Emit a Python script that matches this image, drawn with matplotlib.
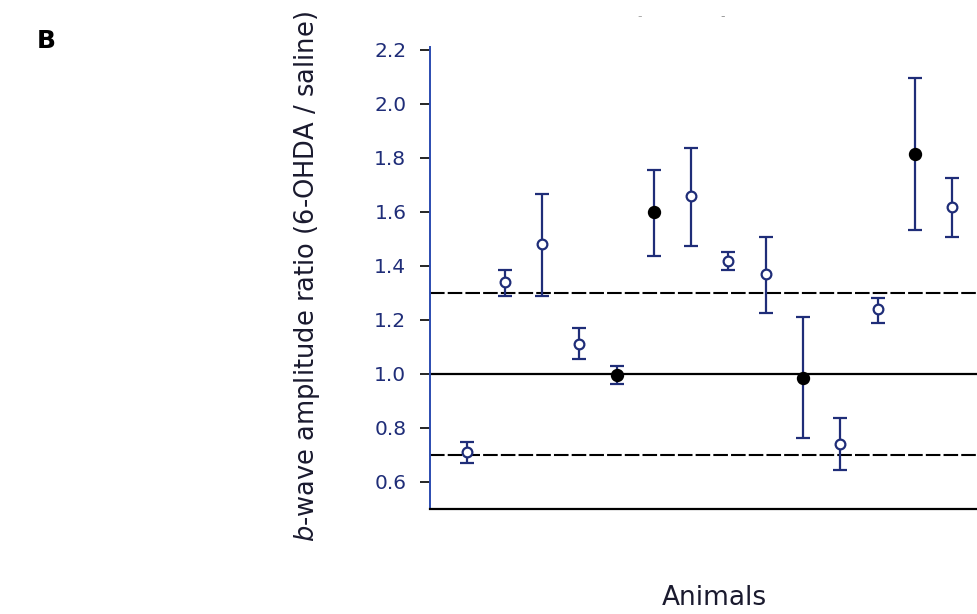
import matplotlib.pyplot as plt

# one entry per animal
animal = [1, 2, 3, 4, 5, 6, 7, 8, 9, 10, 11, 12, 13, 14]
ratio = [0.71, 1.34, 1.48, 1.11, 0.995, 1.60, 1.66, 1.42, 1.37, 0.985, 0.74, 1.24, 1.815, 1.62]
err_lo = [0.67, 1.29, 1.29, 1.055, 0.963, 1.437, 1.474, 1.385, 1.226, 0.763, 0.644, 1.189, 1.533, 1.507]
err_hi = [0.748, 1.385, 1.667, 1.17, 1.03, 1.756, 1.837, 1.452, 1.507, 1.211, 0.837, 1.281, 2.096, 1.726]
filled = [False, False, False, False, True, True, False, False, False, True, False, False, True, False]

yticks = [0.6, 0.8, 1.0, 1.2, 1.4, 1.6, 1.8, 2.0, 2.2]

navy = '#1f2d78'

fig = plt.figure(figsize=(9.77, 6.14), dpi=100)
ax = fig.add_axes([430 / 977, 105 / 614, 1 - 430 / 977, 462 / 614])

# reference lines
ax.axhline(1.0, color='black', lw=1.6, zorder=1)
ax.axhline(1.3, color='black', lw=1.5, ls=(0, (7, 1.5)), zorder=1)
ax.axhline(0.7, color='black', lw=1.5, ls=(0, (7, 1.5)), zorder=1)

for i in range(len(animal)):
    lo = ratio[i] - err_lo[i]
    hi = err_hi[i] - ratio[i]
    if filled[i]:
        face = 'black'
        edge = 'black'
        ms = 8
    else:
        face = 'white'
        edge = navy
        ms = 7
    eb = ax.errorbar(animal[i], ratio[i], yerr=[[lo], [hi]], fmt='o',
                     color=navy, ecolor=navy, elinewidth=1.6, capsize=5,
                     capthick=1.6, mfc=face, mec=edge, mew=1.6, ms=ms, zorder=3)
    for cap in eb[1]:
        cap.set_color('#111122')

ax.set_xlim(0, 547 / 37.3)
ax.set_ylim(0.5, 2.211)
ax.set_yticks(yticks)
ax.set_yticklabels(['%.1f' % t for t in yticks], fontsize=14.5)
ax.set_xticks([])
ax.tick_params(axis='y', direction='out', length=7, width=1.2, colors='black',
               labelcolor=navy, pad=10)
ax.spines['top'].set_visible(False)
ax.spines['right'].set_visible(False)
ax.spines['left'].set_color('#2b4bb0')
ax.spines['left'].set_linewidth(1.4)
ax.spines['bottom'].set_linewidth(1.6)

fig.text(307 / 977, 1 - 277 / 614, '$b$-wave amplitude ratio (6-OHDA / saline)',
         rotation=90, ha='center', va='center', fontsize=18.5, color='#1a1a2e')
fig.text(714 / 977, 1 - 598 / 614, 'Animals', ha='center', va='center',
         fontsize=19, color='#1a1a2e')
fig.text(37 / 977, 1 - 41 / 614, 'B', ha='left', va='center', fontsize=18,
         fontweight='bold')
fig.text(640 / 977, 1 - 17 / 614, '-', ha='center', va='center', fontsize=9,
         color='#aaaaaa')
fig.text(723 / 977, 1 - 17 / 614, '-', ha='center', va='center', fontsize=9,
         color='#999999')

plt.savefig('out.png', dpi=100)
